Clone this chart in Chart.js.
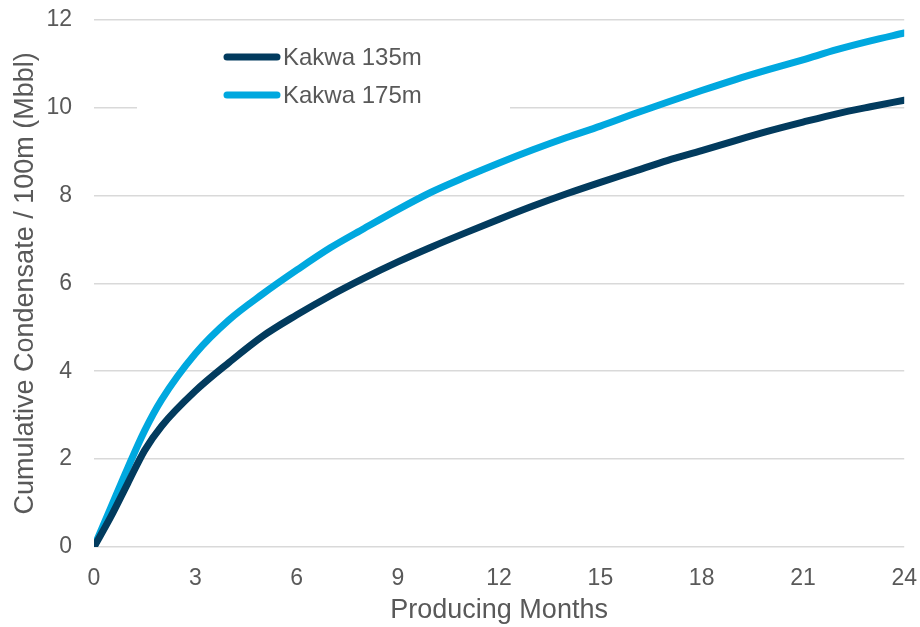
<!DOCTYPE html>
<html>
<head>
<meta charset="utf-8">
<script src="https://cdn.jsdelivr.net/npm/chart.js@4"></script>
<style>
  html, body { margin: 0; padding: 0; background: #ffffff; }
  #wrap { width: 920px; height: 627px; position: relative; }
</style>
</head>
<body>
<div id="wrap"><canvas id="c" width="920" height="627"></canvas></div>
<script>
const months = [0, 0.5, 1, 1.5, 2, 3, 4, 5, 6, 7, 8, 9, 10, 11, 12, 13, 14, 15, 16, 17, 18, 19, 20, 21, 22, 23, 24];
const kakwa135 = [0, 0.69, 1.45, 2.20, 2.75, 3.55, 4.20, 4.80, 5.28, 5.72, 6.12, 6.49, 6.83, 7.15, 7.46, 7.76, 8.04, 8.30, 8.55, 8.80, 9.02, 9.25, 9.47, 9.67, 9.86, 10.02, 10.17];
const kakwa175 = [0, 0.90, 1.80, 2.65, 3.35, 4.40, 5.17, 5.76, 6.30, 6.81, 7.25, 7.68, 8.08, 8.42, 8.74, 9.04, 9.32, 9.58, 9.86, 10.13, 10.39, 10.64, 10.87, 11.09, 11.32, 11.52, 11.70];
const seriesNames = ['Kakwa 135m', 'Kakwa 175m'];
const seriesColors = ['#023B5E', '#00A8DF'];
const xTitle = 'Producing Months';
const yTitle = 'Cumulative Condensate / 100m (Mbbl)';

const FONT = '"Liberation Sans", Arial, sans-serif';
const TXT = '#595959';
const CLEAR = 'rgba(0,0,0,0)';

const toPts = (ys) => months.map((m, i) => ({ x: m, y: ys[i] }));

const legendBox = {
  id: 'legendBox',
  beforeDatasetsDraw(chart) {
    const ctx = chart.ctx;
    ctx.save();
    ctx.fillStyle = '#ffffff';
    ctx.fillRect(137, 32, 373, 100);
    ctx.restore();
  },
  afterDatasetsDraw(chart) {
    const ctx = chart.ctx;
    ctx.save();
    const rows = [57, 95];
    chart.data.datasets.forEach((ds, i) => {
      const y = rows[i];
      ctx.strokeStyle = ds.borderColor;
      ctx.lineWidth = 7;
      ctx.lineCap = 'round';
      ctx.beginPath();
      ctx.moveTo(227, y);
      ctx.lineTo(277, y);
      ctx.stroke();
      ctx.fillStyle = TXT;
      ctx.font = '24px ' + FONT;
      ctx.textAlign = 'left';
      ctx.textBaseline = 'middle';
      ctx.fillText(ds.label, 283, y + 1);
    });
    ctx.restore();
  }
};

const lineStyle = { borderWidth: 7, pointRadius: 0, pointHoverRadius: 0, cubicInterpolationMode: 'monotone', fill: false, borderJoinStyle: 'round', borderCapStyle: 'round' };

new Chart(document.getElementById('c'), {
  type: 'line',
  data: {
    datasets: [
      Object.assign({ label: seriesNames[0], data: toPts(kakwa135), borderColor: seriesColors[0], backgroundColor: seriesColors[0] }, lineStyle),
      Object.assign({ label: seriesNames[1], data: toPts(kakwa175), borderColor: seriesColors[1], backgroundColor: seriesColors[1] }, lineStyle)
    ]
  },
  options: {
    responsive: false,
    animation: false,
    events: [],
    layout: { autoPadding: false, padding: 0 },
    plugins: {
      legend: { display: false },
      tooltip: { enabled: false }
    },
    scales: {
      x: {
        type: 'linear',
        min: 0, max: 24,
        grid: { display: true, drawOnChartArea: false, drawTicks: true, tickLength: 15, tickColor: CLEAR, color: CLEAR },
        border: { display: false },
        ticks: { stepSize: 3, color: TXT, font: { family: FONT, size: 23 }, padding: 3, maxRotation: 0 },
        title: { display: true, text: xTitle, color: TXT, font: { family: FONT, size: 27 }, padding: { top: -2, bottom: 0 } },
        afterFit(s) { s.height = 80; }
      },
      y: {
        min: 0, max: 12,
        grid: { color: '#d9d9d9', lineWidth: 1.6, drawTicks: true, tickLength: 16, tickColor: CLEAR },
        border: { display: false },
        ticks: { stepSize: 2, color: TXT, font: { family: FONT, size: 23 }, padding: 6 },
        title: { display: true, text: yTitle, color: TXT, font: { family: FONT, size: 27 }, padding: { top: 9, bottom: 0 } },
        afterFit(s) { s.width = 94; }
      }
    }
  },
  plugins: [legendBox]
});
</script>
</body>
</html>
